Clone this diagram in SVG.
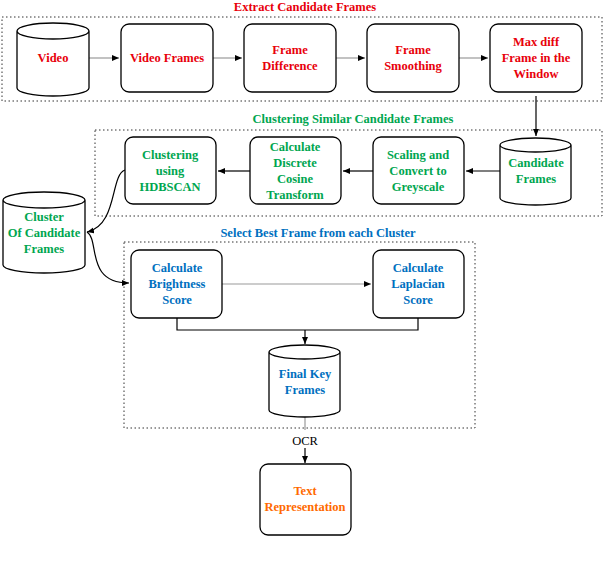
<svg xmlns="http://www.w3.org/2000/svg" width="604" height="572" viewBox="0 0 604 572" font-family="Liberation Serif, DejaVu Serif, serif">
<style>
text{font-family:'Liberation Serif','DejaVu Serif',serif;font-weight:bold;font-size:12.5px;text-anchor:middle}
.r{fill:#e8000b}.g{fill:#00a650}.b{fill:#0070c0}.o{fill:#ff6a00}
.n{fill:#fff;stroke:#000;stroke-width:1.3}
.box{fill:none;stroke:#333;stroke-width:1;stroke-dasharray:1.5 2.5}
.c{fill:none;stroke:#000;stroke-width:1.2}
.cg{fill:none;stroke:#999;stroke-width:1.2}
</style>
<defs>
<marker id="a" markerWidth="8" markerHeight="8" refX="7" refY="4" orient="auto" markerUnits="userSpaceOnUse"><path d="M0,1 L7,4 L0,7 Z" fill="#000"/></marker>
</defs>
<rect x="2" y="17" width="600" height="84" fill="#f3f4f8" class="box"/>
<rect x="95" y="130" width="507" height="86" class="box"/>
<rect x="124" y="242" width="351" height="186" class="box"/>
<text x="305" y="11" class="r">Extract Candidate Frames</text>
<text x="353" y="123" class="g">Clustering Similar Candidate Frames</text>
<text x="318" y="237" class="b">Select Best Frame from each Cluster</text>
<g id="connectors">
<path class="cg" d="M89,58 H119" marker-end="url(#a)"/>
<path class="cg" d="M213,58 H242" marker-end="url(#a)"/>
<path class="cg" d="M336,58 H365" marker-end="url(#a)"/>
<path class="cg" d="M459,58 H488" marker-end="url(#a)"/>
<path class="c" d="M536,96 V136" marker-end="url(#a)"/>
<path class="c" d="M500,171 H466" marker-end="url(#a)"/>
<path class="c" d="M373,171 H343" marker-end="url(#a)"/>
<path class="c" d="M250,171 H218" marker-end="url(#a)"/>
<path class="c" d="M125,170 C110,175 118,225 87,232" marker-end="url(#a)"/>
<path class="c" d="M87,232 C100,240 85,283 129,283" marker-end="url(#a)"/>
<path class="cg" d="M222,284 H371" marker-end="url(#a)"/>
<path class="c" d="M177,318 V330 H418 V318"/>
<path class="c" d="M305,330 V344" marker-end="url(#a)"/>
<path class="cg" d="M305,417 V430"/>
<path class="c" d="M305,448 V463" marker-end="url(#a)"/>
<text x="305" y="445" style="font-weight:normal;fill:#000">OCR</text>
</g>
<g id="video"><path class="n" d="M17,31 V88 A36,8 0 0 0 89,88 V31 A36,8 0 0 0 17,31 A36,8 0 0 0 89,31"/><text x="53" y="62" class="r">Video</text></g>
<g id="frames"><rect class="n" x="121" y="24" width="92" height="68" rx="8"/><text x="167" y="62" class="r">Video Frames</text></g>
<g id="diff"><rect class="n" x="244" y="24" width="92" height="68" rx="8"/><text x="290" y="54" class="r">Frame</text><text x="290" y="70" class="r">Difference</text></g>
<g id="smooth"><rect class="n" x="367" y="24" width="92" height="68" rx="8"/><text x="413" y="54" class="r">Frame</text><text x="413" y="70" class="r">Smoothing</text></g>
<g id="maxdiff"><rect class="n" x="490" y="24" width="92" height="68" rx="8"/><text x="536" y="46" class="r">Max diff</text><text x="536" y="62" class="r">Frame in the</text><text x="536" y="78" class="r">Window</text></g>
<g id="cand"><path class="n" d="M500,145 V198 A35.5,7 0 0 0 571,198 V145 A35.5,7 0 0 0 500,145 A35.5,7 0 0 0 571,145"/><text x="536" y="167" class="g">Candidate</text><text x="536" y="183" class="g">Frames</text></g>
<g id="scale"><rect class="n" x="373" y="137" width="91" height="67" rx="8"/><text x="418" y="159" class="g">Scaling and</text><text x="418" y="175" class="g">Convert to</text><text x="418" y="191" class="g">Greyscale</text></g>
<g id="dct"><rect class="n" x="250" y="137" width="91" height="67" rx="8"/><text x="295" y="151" class="g">Calculate</text><text x="295" y="167" class="g">Discrete</text><text x="295" y="183" class="g">Cosine</text><text x="295" y="199" class="g">Transform</text></g>
<g id="hdb"><rect class="n" x="125" y="137" width="91" height="67" rx="8"/><text x="170" y="159" class="g">Clustering</text><text x="170" y="175" class="g">using</text><text x="170" y="191" class="g">HDBSCAN</text></g>
<g id="cluster"><path class="n" d="M3,200 V265 A41,8 0 0 0 85,265 V200 A41,8 0 0 0 3,200 A41,8 0 0 0 85,200"/><text x="44" y="221" class="g">Cluster</text><text x="44" y="237" class="g">Of Candidate</text><text x="44" y="253" class="g">Frames</text></g>
<g id="bright"><rect class="n" x="131" y="250" width="91" height="68" rx="8"/><text x="177" y="272" class="b">Calculate</text><text x="177" y="288" class="b">Brightness</text><text x="177" y="304" class="b">Score</text></g>
<g id="lap"><rect class="n" x="373" y="250" width="91" height="68" rx="8"/><text x="418" y="272" class="b">Calculate</text><text x="418" y="288" class="b">Laplacian</text><text x="418" y="304" class="b">Score</text></g>
<g id="final"><path class="n" d="M269,352 V410 A35.5,7 0 0 0 340,410 V352 A35.5,7 0 0 0 269,352 A35.5,7 0 0 0 340,352"/><text x="305" y="378" class="b">Final Key</text><text x="305" y="394" class="b">Frames</text></g>
<g id="text"><rect class="n" x="260" y="464" width="91" height="71" rx="8"/><text x="305" y="495" class="o">Text</text><text x="305" y="511" class="o">Representation</text></g>
</svg>
